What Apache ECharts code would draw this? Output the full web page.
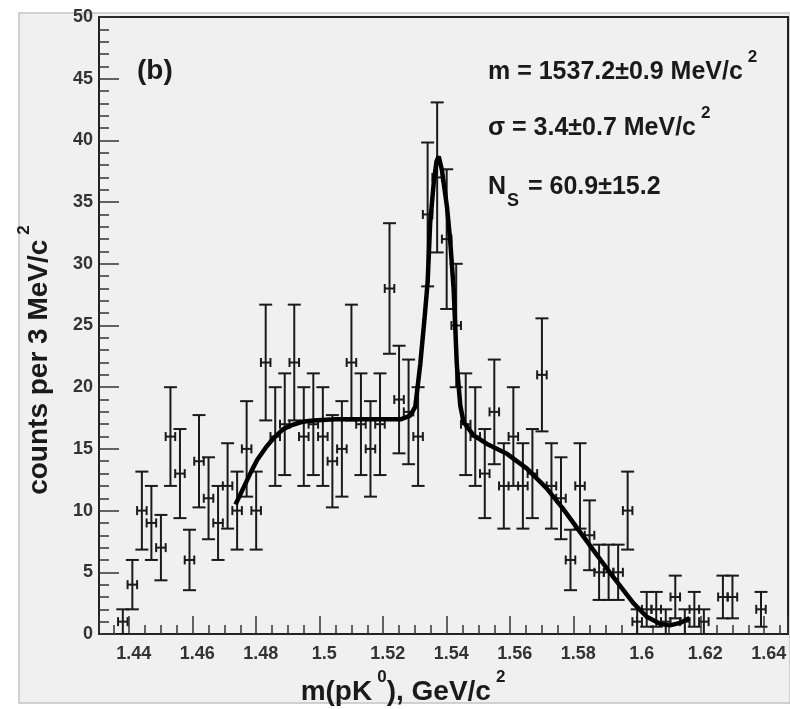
<!DOCTYPE html>
<html>
<head>
<meta charset="utf-8">
<script src="https://cdn.jsdelivr.net/npm/echarts@6/dist/echarts.min.js"></script>
<style>
html, body { margin: 0; padding: 0; background: #ffffff; }
#chart { width: 790px; height: 709px; }
</style>
</head>
<body>
<div id="chart"></div>
<script>
// bin centres m(pK0), GeV/c^2 (3 MeV bins)
const massBins = [
  1.438, 1.441, 1.444, 1.447, 1.450, 1.453, 1.456, 1.459, 1.462, 1.465,
  1.468, 1.471, 1.474, 1.477, 1.480, 1.483, 1.486, 1.489, 1.492, 1.495,
  1.498, 1.501, 1.504, 1.507, 1.510, 1.513, 1.516, 1.519, 1.522, 1.525,
  1.528, 1.531, 1.534, 1.537, 1.540, 1.543, 1.546, 1.549, 1.552, 1.555,
  1.558, 1.561, 1.564, 1.567, 1.570, 1.573, 1.576, 1.579, 1.582, 1.585,
  1.588, 1.591, 1.594, 1.597, 1.600, 1.603, 1.606, 1.609, 1.612, 1.615,
  1.618, 1.621, 1.627, 1.630, 1.639
];
// counts per bin
const counts = [
  1, 4, 10, 9, 7, 16, 13, 6, 14, 11,
  9, 12, 10, 15, 10, 22, 16, 17, 22, 16,
  17, 16, 14, 15, 22, 17, 15, 17, 28, 19,
  18, 16, 34, 37, 32, 25, 17, 16, 13, 18,
  12, 16, 12, 13, 21, 12, 11, 6, 12, 8,
  5, 5, 5, 10, 1, 2, 2, 1, 3, 1,
  2, 1, 3, 3, 2
];
// vertical error bar half lengths
const countErrs = [
  1.0, 2.0, 3.16, 3.0, 2.65, 4.0, 3.61, 2.45, 3.74, 3.32,
  3.0, 3.46, 3.16, 3.87, 3.16, 4.69, 4.0, 4.12, 4.69, 4.0,
  4.12, 4.0, 3.74, 3.87, 4.69, 4.12, 3.87, 4.12, 5.29, 4.36,
  4.24, 4.0, 5.83, 6.08, 5.66, 5.0, 4.12, 4.0, 3.61, 4.24,
  3.46, 4.0, 3.46, 3.61, 4.58, 3.46, 3.32, 2.45, 3.46, 2.83,
  2.24, 2.24, 2.24, 3.16, 1.0, 1.41, 1.41, 1.0, 1.73, 1.0,
  1.41, 1.0, 1.73, 1.73, 1.41
];
const binHalf = 0.0015;

// fit curve (gauss + background)
const fitMass = [
  1.4735, 1.4761, 1.4785, 1.4803, 1.4830, 1.4856, 1.4885, 1.4910, 1.4945, 1.4980,
  1.5050, 1.5120, 1.5190, 1.5255, 1.5285, 1.5301, 1.5317, 1.5330, 1.5340, 1.5348,
  1.5359, 1.5368, 1.5375, 1.5385, 1.5401, 1.5411, 1.5422, 1.5432, 1.5443, 1.5453,
  1.5464, 1.5485, 1.5527, 1.5590, 1.5653, 1.5715, 1.5765, 1.5799, 1.5862, 1.5925,
  1.5988, 1.6030, 1.6075, 1.6103, 1.6135, 1.6165
];
const fitValue = [
  10.5, 11.9, 13.2, 14.1, 15.1, 15.9, 16.6, 16.9, 17.2, 17.3,
  17.4, 17.4, 17.4, 17.4, 17.7, 18.4, 21.9, 25.5, 28.5, 33.3,
  36.5, 38.3, 38.7, 37.6, 34.6, 31.9, 27.9, 21.8, 18.5, 17.2,
  16.8, 16.1, 15.4, 14.6, 13.4, 11.8, 10.2, 9.0, 6.8, 4.6,
  2.5, 1.4, 0.8, 0.7, 0.9, 1.3
];

const font = "'Liberation Sans', Arial, Helvetica, sans-serif";
const ink = '#1a1a1a';

const points = massBins.map((m, i) => [m, counts[i], countErrs[i]]);
const curve = fitMass.map((m, i) => [m, fitValue[i]]);

function renderErr(params, api) {
  const x = api.value(0), y = api.value(1), e = api.value(2);
  const top = api.coord([x, y + e]);
  const bot = api.coord([x, y - e]);
  const lft = api.coord([x - binHalf, y]);
  const rgt = api.coord([x + binHalf, y]);
  const st = { stroke: ink, lineWidth: 2 };
  const seg = (x1, y1, x2, y2) => ({ type: 'line', shape: { x1, y1, x2, y2 }, style: st });
  return {
    type: 'group',
    children: [
      seg(top[0], top[1], bot[0], bot[1]),
      seg(top[0] - 6.5, top[1], top[0] + 6.5, top[1]),
      seg(bot[0] - 6.5, bot[1], bot[0] + 6.5, bot[1]),
      seg(lft[0], lft[1], rgt[0], rgt[1]),
      seg(lft[0], lft[1] - 4.5, lft[0], lft[1] + 4.5),
      seg(rgt[0], rgt[1] - 4.5, rgt[0], rgt[1] + 4.5)
    ]
  };
}

function rich(size) {
  return {
    t: { fontSize: size, fontWeight: 'bold', fontFamily: font, fill: ink, lineHeight: 46 },
    sup: { fontSize: 17, fontWeight: 'bold', fontFamily: font, fill: ink, verticalAlign: 'top', lineHeight: 17, padding: [0, 0, 0, 5] },
    sub: { fontSize: 18, fontWeight: 'bold', fontFamily: font, fill: ink, verticalAlign: 'bottom', lineHeight: 26, padding: [0, 2, 0, 1] }
  };
}

const chart = echarts.init(document.getElementById('chart'));
const axisLabel = { fontSize: 18, fontWeight: 'bold', color: '#333', fontFamily: font };

chart.setOption({
  backgroundColor: '#ffffff',
  animation: false,
  grid: {
    left: 99, right: 2, top: 17, bottom: 75,
    show: true, backgroundColor: '#f0f0f0', borderColor: '#222', borderWidth: 2
  },
  xAxis: {
    type: 'value',
    min: 1.4305,
    max: 1.6475,
    splitNumber: 10,
    axisLine: { lineStyle: { color: '#222', width: 2 } },
    axisTick: { inside: true, length: 18, lineStyle: { color: '#333', width: 1.5 } },
    minorTick: { show: true, splitNumber: 4, length: 9, lineStyle: { color: '#333', width: 1.5 } },
    splitLine: { show: false },
    axisLabel: Object.assign({ showMinLabel: false, showMaxLabel: false, margin: 11, padding: [0, 0, 0, 9] }, axisLabel)
  },
  yAxis: {
    type: 'value',
    min: 0,
    max: 50,
    interval: 5,
    axisLine: { show: true, lineStyle: { color: '#222', width: 2 } },
    axisTick: { show: true, inside: true, length: 20, lineStyle: { color: '#333', width: 1.5 } },
    minorTick: { show: true, splitNumber: 5, length: 10, lineStyle: { color: '#333', width: 1.5 } },
    splitLine: { show: false },
    axisLabel: Object.assign({ margin: 6 }, axisLabel)
  },
  graphic: [
    {
      type: 'rect', z: -10, silent: true,
      shape: { x: 19, y: 13, width: 771, height: 690 },
      style: { fill: '#f0f0f0', stroke: '#c4c4c4', lineWidth: 1.5 }
    },
    {
      type: 'text', x: 137, y: 71,
      style: { text: '(b)', fontSize: 28, fontWeight: 'bold', fontFamily: font, fill: ink, verticalAlign: 'middle' }
    },
    {
      type: 'text', x: 488, y: 72,
      style: { text: '{t|m = 1537.2±0.9 MeV/c}{sup|2}', rich: rich(25), verticalAlign: 'middle' }
    },
    {
      type: 'text', x: 488, y: 128,
      style: { text: '{t|σ = 3.4±0.7 MeV/c}{sup|2}', rich: rich(25), verticalAlign: 'middle' }
    },
    {
      type: 'text', x: 488, y: 187,
      style: { text: '{t|N}{sub|S}{t| = 60.9±15.2}', rich: rich(25), verticalAlign: 'middle' }
    },
    {
      type: 'text', x: 39, y: 360, rotation: Math.PI / 2,
      style: { text: '{t|counts per 3 MeV/c}{sup|2}', rich: rich(28), align: 'center', verticalAlign: 'middle' }
    },
    {
      type: 'text', x: 403, y: 692,
      style: { text: '{t|m(pK}{sup|0}{t|), GeV/c}{sup|2}', rich: rich(28), align: 'center', verticalAlign: 'middle' }
    }
  ],
  series: [
    {
      type: 'custom',
      renderItem: renderErr,
      data: points,
      clip: true,
      z: 3
    },
    {
      type: 'line',
      data: curve,
      symbol: 'none',
      smooth: false,
      lineStyle: { color: '#000', width: 4.5 },
      clip: true,
      z: 4
    }
  ]
});
</script>
</body>
</html>
